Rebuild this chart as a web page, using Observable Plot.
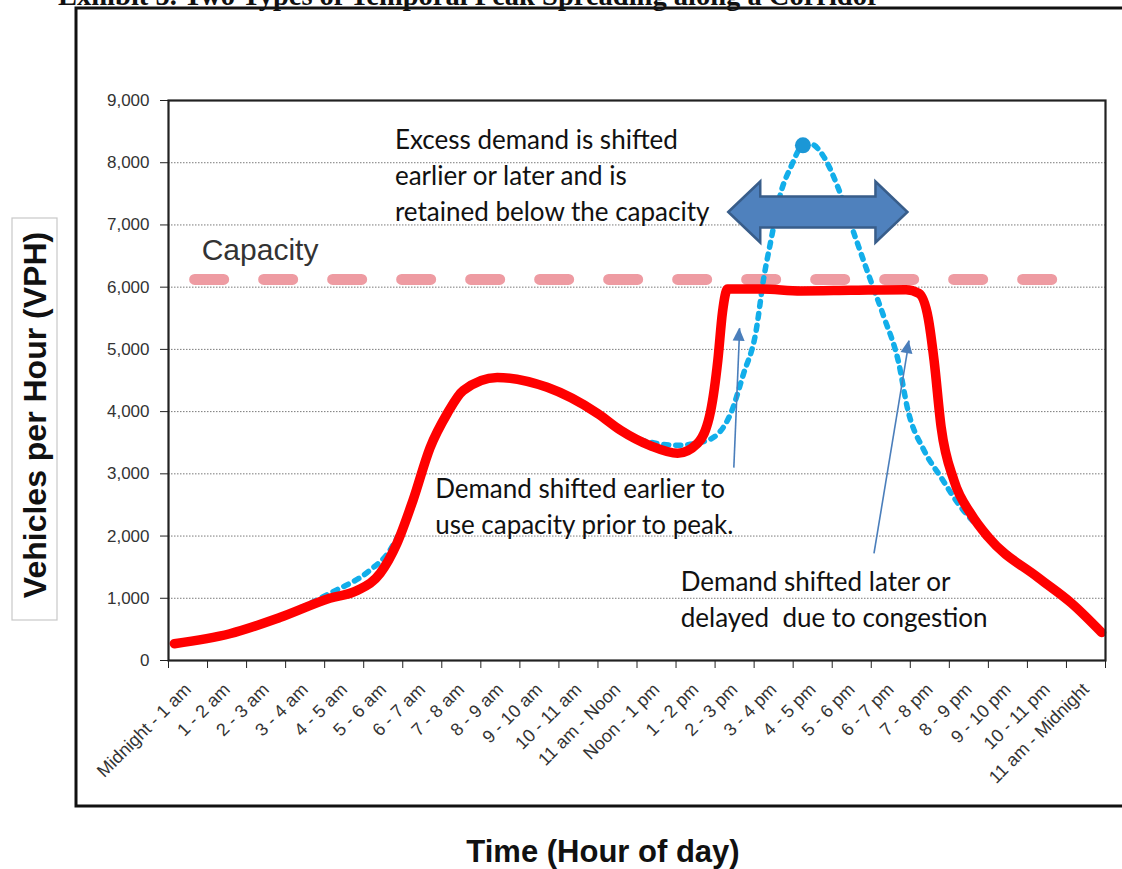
<!DOCTYPE html>
<html>
<head>
<meta charset="utf-8">
<script src="https://cdn.jsdelivr.net/npm/d3@7"></script>
<script src="https://cdn.jsdelivr.net/npm/@observablehq/plot@0.6"></script>
<style>
  html, body { margin: 0; padding: 0; background: #fff; overflow: hidden; }
  #chart { width: 1122px; height: 869px; overflow: hidden; }
</style>
</head>
<body>
<div id="chart"></div>
<script>
// ---- data (hour of day as decimal, vehicles per hour) ----
const hourLabels = ["Midnight - 1 am", "1 - 2 am", "2 - 3 am", "3 - 4 am", "4 - 5 am", "5 - 6 am",
  "6 - 7 am", "7 - 8 am", "8 - 9 am", "9 - 10 am", "10 - 11 am", "11 am - Noon",
  "Noon - 1 pm", "1 - 2 pm", "2 - 3 pm", "3 - 4 pm", "4 - 5 pm", "5 - 6 pm",
  "6 - 7 pm", "7 - 8 pm", "8 - 9 pm", "9 - 10 pm", "10 - 11 pm", "11 am - Midnight"];
const yTicks = [0, 1000, 2000, 3000, 4000, 5000, 6000, 7000, 8000, 9000];
const gridVph = [1000, 2000, 3000, 4000, 5000, 6000, 7000, 8000];

// actual flow (red, constrained by capacity)
const actualHour = [0.15, 1.57, 2.85, 4.13, 4.83, 5.42, 5.85, 6.26, 6.70, 7.14, 7.55, 8.42, 9.70, 10.99, 11.58, 12.35, 13.04, 13.55, 13.89, 14.07, 14.19, 14.32, 15.17, 16.20, 17.48, 18.89, 19.22, 19.46, 19.61, 19.79, 20.12, 20.56, 21.00, 22.28, 23.13, 23.90];
const actualVph  = [270, 430, 690, 1000, 1125, 1400, 1880, 2570, 3420, 3970, 4340, 4550, 4390, 3970, 3700, 3450, 3330, 3490, 4020, 4820, 5600, 5970, 5970, 5940, 5950, 5960, 5900, 5500, 4820, 3750, 2890, 2350, 1980, 1330, 920, 450];

// unconstrained demand (blue dotted)
const demandHour = [0.15, 1.57, 2.85, 4.13, 5.16, 5.67, 6.26, 6.70, 7.14, 7.55, 8.42, 9.70, 10.99, 11.91, 12.60, 13.04, 13.81, 14.40, 14.73, 15.04, 15.25, 15.43, 15.68, 15.94, 16.25, 16.45, 16.79, 17.15, 17.56, 17.92, 18.33, 18.69, 18.94, 19.35, 19.79, 20.23, 21.00, 22.28, 23.13, 23.90];
const demandVph  = [270, 440, 700, 1080, 1450, 1770, 2570, 3450, 4000, 4350, 4550, 4390, 3970, 3590, 3480, 3460, 3540, 3970, 4610, 5260, 6160, 6750, 7510, 7930, 8280, 8300, 8090, 7600, 6860, 6220, 5510, 4820, 4020, 3380, 2940, 2520, 1990, 1340, 940, 480];

const capacityVph = 6125;
const capacitySpan = [0.67, 23.2];
const peakMarker = [{hour: 16.25, vph: 8280}];

const shiftArrowSpan = [14.35, 18.94];
const shiftArrowVph = 7200;

const pointerFrom = [{hour: 14.48, vph: 3100}, {hour: 18.07, vph: 1720}];
const pointerTo   = [{hour: 14.63, vph: 5340}, {hour: 18.97, vph: 5140}];

const notes = [
  {hour: 5.8,  vph: 7830, text: "Excess demand is shifted\nearlier or later and is\nretained below the capacity"},
  {hour: 6.83, vph: 2510, text: "Demand shifted earlier to\nuse capacity prior to peak."},
  {hour: 13.12, vph: 1005, text: "Demand shifted later or\ndelayed  due to congestion"}
];
const capacityLabel = [{hour: 0.85, vph: 6590, text: "Capacity"}];

// ---- build tables ----
const actual = actualHour.map((h, i) => ({hour: h, vph: actualVph[i]}));
const demand = demandHour.map((h, i) => ({hour: h, vph: demandVph[i]}));
const capacity = capacitySpan.map(h => ({hour: h, vph: capacityVph}));
const pointers = pointerFrom.map((d, i) => ({x1: d.hour, y1: d.vph, x2: pointerTo[i].hour, y2: pointerTo[i].vph}));
const boundaries = d3.range(0, hourLabels.length + 1);
const labelPos = hourLabels.map((_, i) => i + 0.5);
const fmt = d3.format(",");

const chart = Plot.plot({
  width: 1122,
  height: 869,
  marginLeft: 168,
  marginRight: 17,
  marginTop: 100,
  marginBottom: 209,
  style: {fontFamily: "'Liberation Sans', Arial, sans-serif", background: "white", color: "#222", overflow: "visible"},
  x: {domain: [0, 24]},
  y: {domain: [0, 9000]},
  marks: [
    Plot.ruleY(gridVph, {stroke: "#7a7a7a", strokeWidth: 1, strokeDasharray: "1.5,1.5"}),
    Plot.line(capacity, {x: "hour", y: "vph", stroke: "#ee9ba2", strokeWidth: 11, strokeDasharray: "29,40", strokeLinecap: "round"}),
    Plot.line(demand, {x: "hour", y: "vph", stroke: "#12aeea", strokeWidth: 5.5, strokeDasharray: "5,7", curve: "monotone-x"}),
    Plot.line(actual, {x: "hour", y: "vph", stroke: "#ff0000", strokeWidth: 9.5, curve: "monotone-x", strokeLinejoin: "round"}),
    Plot.dot(peakMarker, {x: "hour", y: "vph", r: 8, fill: "#1b97d6"}),
    Plot.link(pointers, {x1: "x1", y1: "y1", x2: "x2", y2: "y2", stroke: "#4a7ebb", strokeWidth: 1.6}),
    Plot.text(capacityLabel, {x: "hour", y: "vph", text: "text", textAnchor: "start", fontSize: 30, fill: "#333"}),
    Plot.text(notes, {x: "hour", y: "vph", text: "text", textAnchor: "start", lineAnchor: "middle", lineHeight: 1.385, fontSize: 26, fontFamily: "Lato, 'Open Sans', sans-serif", fill: "#111"}),
    Plot.axisY({ticks: yTicks, tickFormat: () => "", tickSize: 8, label: null}),
    Plot.text(yTicks, {y: d => d, text: d => fmt(d), frameAnchor: "left", dx: -19, textAnchor: "end", fontSize: 17, fill: "#333"}),
    Plot.axisX(boundaries, {tickSize: 8, tickFormat: () => "", label: null}),
    Plot.axisX(labelPos, {tickSize: 0, tickPadding: 26, tickRotate: -45, fontSize: 18, tickFormat: d => hourLabels[Math.floor(d)], label: null, color: "#333"}),
    Plot.frame({stroke: "#222", strokeWidth: 2.2})
  ]
});

document.getElementById("chart").appendChild(chart);

const svg = d3.select(chart);
const sx = chart.scale("x"), sy = chart.scale("y");

// ---- filled arrowheads on the pointer lines ----
pointers.forEach(p => {
  const xa = sx.apply(p.x1), ya = sy.apply(p.y1), xb = sx.apply(p.x2), yb = sy.apply(p.y2);
  const ang = Math.atan2(yb - ya, xb - xa);
  const len = 13, half = 6;
  const ux = Math.cos(ang), uy = Math.sin(ang);
  const bx = xb - ux * len, by = yb - uy * len;
  const pts = [[xb, yb], [bx - uy * half, by + ux * half], [bx + uy * half, by - ux * half]];
  svg.append("path").attr("d", "M" + pts.map(q => q.join(",")).join("L") + "Z").attr("fill", "#4a7ebb");
});

// ---- block arrow (shift of excess demand), positioned through the chart's scales ----
const ax0 = sx.apply(shiftArrowSpan[0]), ax1 = sx.apply(shiftArrowSpan[1]), ay = sy.apply(shiftArrowVph);
const hl = 32, hh = 30.5, sh = 15.5;
const arrowPath = [
  [ax0, ay], [ax0 + hl, ay - hh], [ax0 + hl, ay - sh], [ax1 - hl, ay - sh], [ax1 - hl, ay - hh],
  [ax1, ay], [ax1 - hl, ay + hh], [ax1 - hl, ay + sh], [ax0 + hl, ay + sh], [ax0 + hl, ay + hh]
];
svg.append("path")
  .attr("d", "M" + arrowPath.map(p => p.join(",")).join("L") + "Z")
  .attr("fill", "#4f81bd")
  .attr("stroke", "#385d8a")
  .attr("stroke-width", 2.5)
  .attr("stroke-linejoin", "miter");

// ---- outer figure frame, titles ----
const outer = svg.insert("g", ":first-child");
outer.append("path").attr("d", "M1130,8 L76,8 L76,806 L1130,806").attr("fill", "none").attr("stroke", "#111").attr("stroke-width", 3);
svg.append("text")
  .attr("x", 58).attr("y", 5)
  .style("text-anchor", "start")
  .style("font-family", "'Liberation Serif', 'Times New Roman', serif")
  .style("font-weight", "bold").style("font-size", "28.5px").attr("fill", "#111")
  .text("Exhibit 5. Two Types of Temporal Peak Spreading along a Corridor");

const ybox = svg.append("g");
ybox.append("rect").attr("x", 12).attr("y", 218).attr("width", 45).attr("height", 402)
  .attr("fill", "white").attr("stroke", "#c8c8c8").attr("stroke-width", 1.2);
ybox.append("text")
  .attr("transform", "translate(35,415) rotate(-90)")
  .style("text-anchor", "middle").attr("dominant-baseline", "central")
  .style("font-family", "'Liberation Sans', Arial, sans-serif").style("font-weight", "bold")
  .style("font-size", "32px").attr("fill", "#111")
  .text("Vehicles per Hour (VPH)");

svg.append("text")
  .attr("x", 603).attr("y", 862)
  .style("text-anchor", "middle")
  .style("font-family", "'Liberation Sans', Arial, sans-serif").style("font-weight", "bold")
  .style("font-size", "31px").attr("fill", "#111")
  .text("Time (Hour of day)");
</script>
</body>
</html>
